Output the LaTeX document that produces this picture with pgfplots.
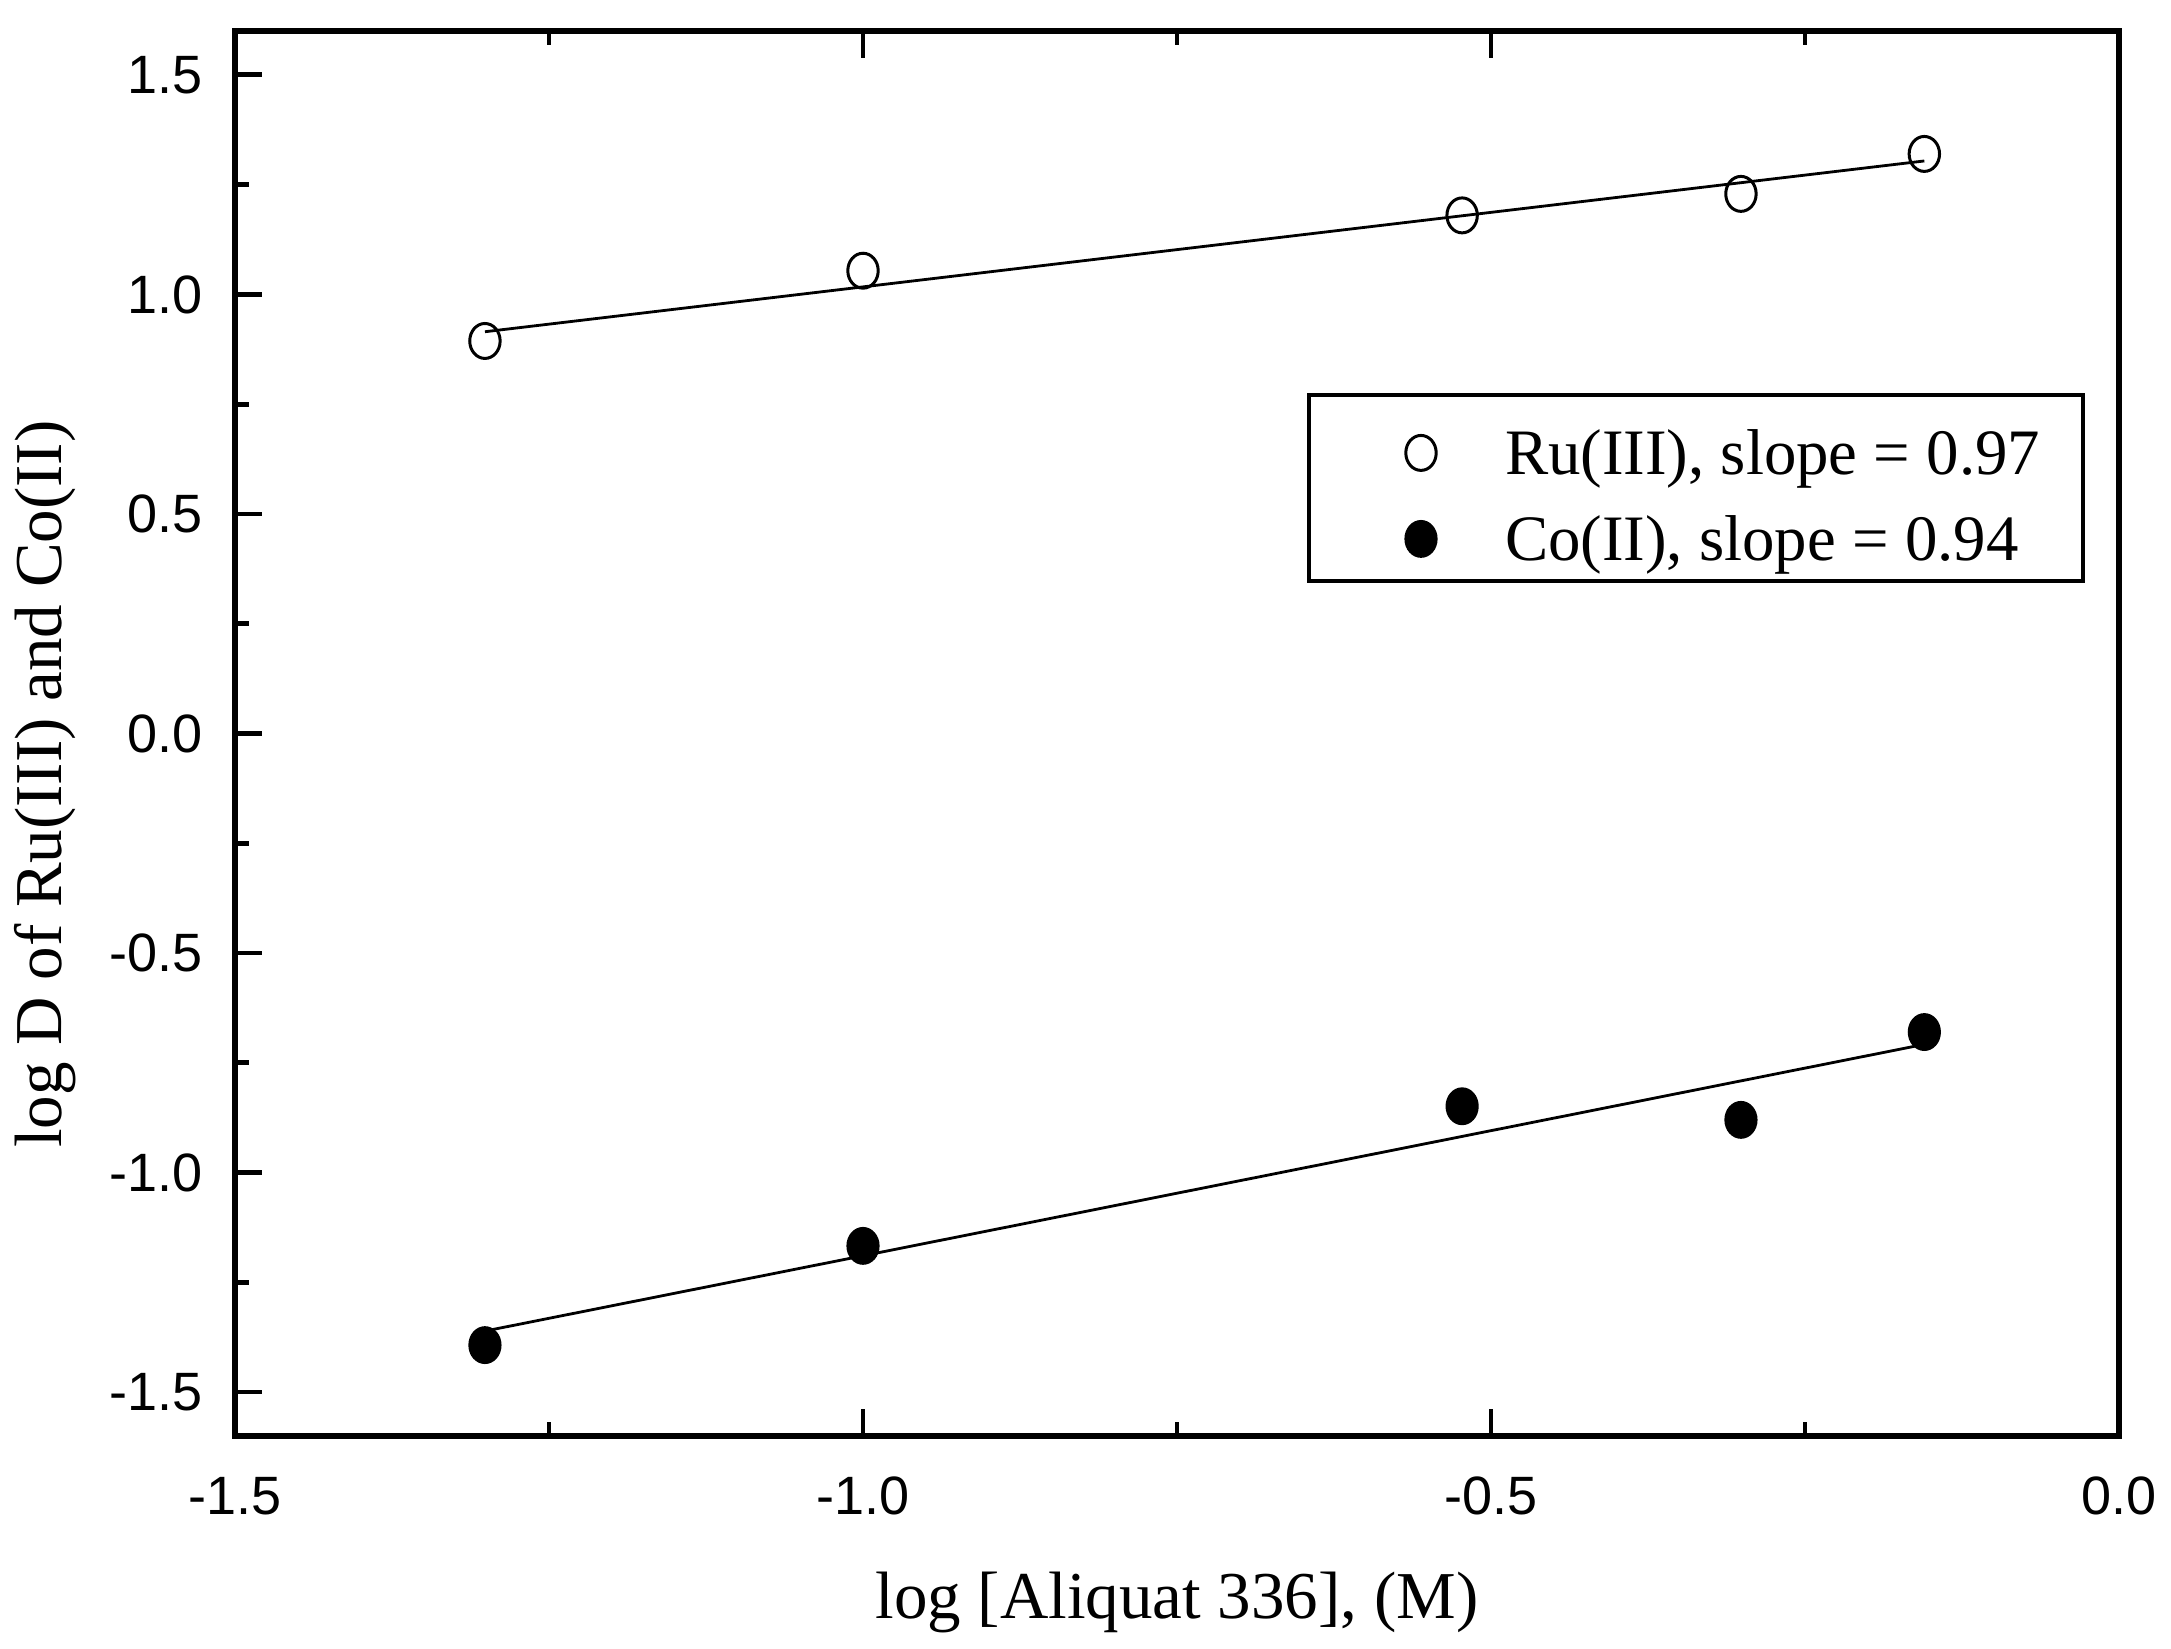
\documentclass[border=0pt]{standalone}
\usepackage{fontspec}
\setmainfont{Liberation Serif}
\newfontfamily\arialf{Liberation Sans}
\usepackage{pgfplots}
\pgfplotsset{compat=1.18}
\begin{document}
\begin{tikzpicture}
\begin{axis}[
  name=ax,
  scale only axis, width=471pt, height=351.25pt,
  xmin=-1.5, xmax=0, ymin=-1.6, ymax=1.6,
  axis line style={line width=1.3pt},
  tick align=inside,
  xtick={-1.5,-1,-0.5,0}, xticklabels={-1.5,-1.0,-0.5,0.0},
  ytick={-1.5,-1,-0.5,0,0.5,1,1.5}, yticklabels={-1.5,-1.0,-0.5,0.0,0.5,1.0,1.5},
  minor tick num=1,
  xtick pos=both, ytick pos=left,
  major tick length=6.7pt, minor tick length=3.4pt,
  every tick/.style={line width=1.2pt, black},
  xticklabel style={font=\arialf\fontsize{13.5}{16}\selectfont, anchor=center, yshift=-15pt},
  yticklabel style={font=\arialf\fontsize{13.5}{16}\selectfont, anchor=east, inner sep=0pt, xshift=-8pt},
  xlabel={log [Aliquat 336], (M)},
  ylabel={log D of Ru(III) and Co(II)},
  xlabel style={at={(axis description cs:0.5,0)}, anchor=center, yshift=-41.5pt, font=\fontsize{16.75}{20}\selectfont},
  ylabel style={at={(axis description cs:-0.1008,0.464)}, anchor=center, font=\fontsize{16.75}{20}\selectfont},
  legend style={at={(rel axis cs:0.569,0.7424)}, anchor=north west, draw=black, line width=1pt,
    inner xsep=0pt, inner ysep=2pt, row sep=0.5pt, column sep=0pt,
    font=\fontsize{16.2}{19}\selectfont,
    nodes={inner sep=0pt, text height=17.8pt, text depth=3.2pt},
    cells={anchor=base west}},
  legend image code/.code={\path[draw=none,fill=none] (0pt,0pt) (49pt,0pt); \draw[#1] plot coordinates {(28pt,5.3pt)};},
]
\addplot[line width=0.7pt, no marks, forget plot] coordinates {(-1.301,0.915) (-0.155,1.304)};
\addplot[line width=0.7pt, no marks, forget plot] coordinates {(-1.301,-1.361) (-0.155,-0.708)};
\addplot[only marks, mark=o, mark size=3.8pt, mark options={line width=0.75pt, yscale=1.15, black}] coordinates {
  (-1.301,0.894) (-1.0,1.054) (-0.523,1.180) (-0.301,1.229) (-0.155,1.320)};
\addlegendentry{\makebox[144.5pt][l]{Ru(III), slope = 0.97}}
\addplot[only marks, mark=*, mark size=3.9pt, mark options={line width=0.5pt, yscale=1.15, black, fill=black}] coordinates {
  (-1.301,-1.393) (-1.0,-1.167) (-0.523,-0.849) (-0.301,-0.880) (-0.155,-0.680)};
\addlegendentry{\makebox[144.5pt][l]{Co(II), slope = 0.94}}
\end{axis}
\pgfresetboundingbox
\path[use as bounding box] ([xshift=-58.75pt,yshift=-53pt]ax.south west) rectangle ([xshift=13pt,yshift=7.75pt]ax.north east);
\end{tikzpicture}
\end{document}
